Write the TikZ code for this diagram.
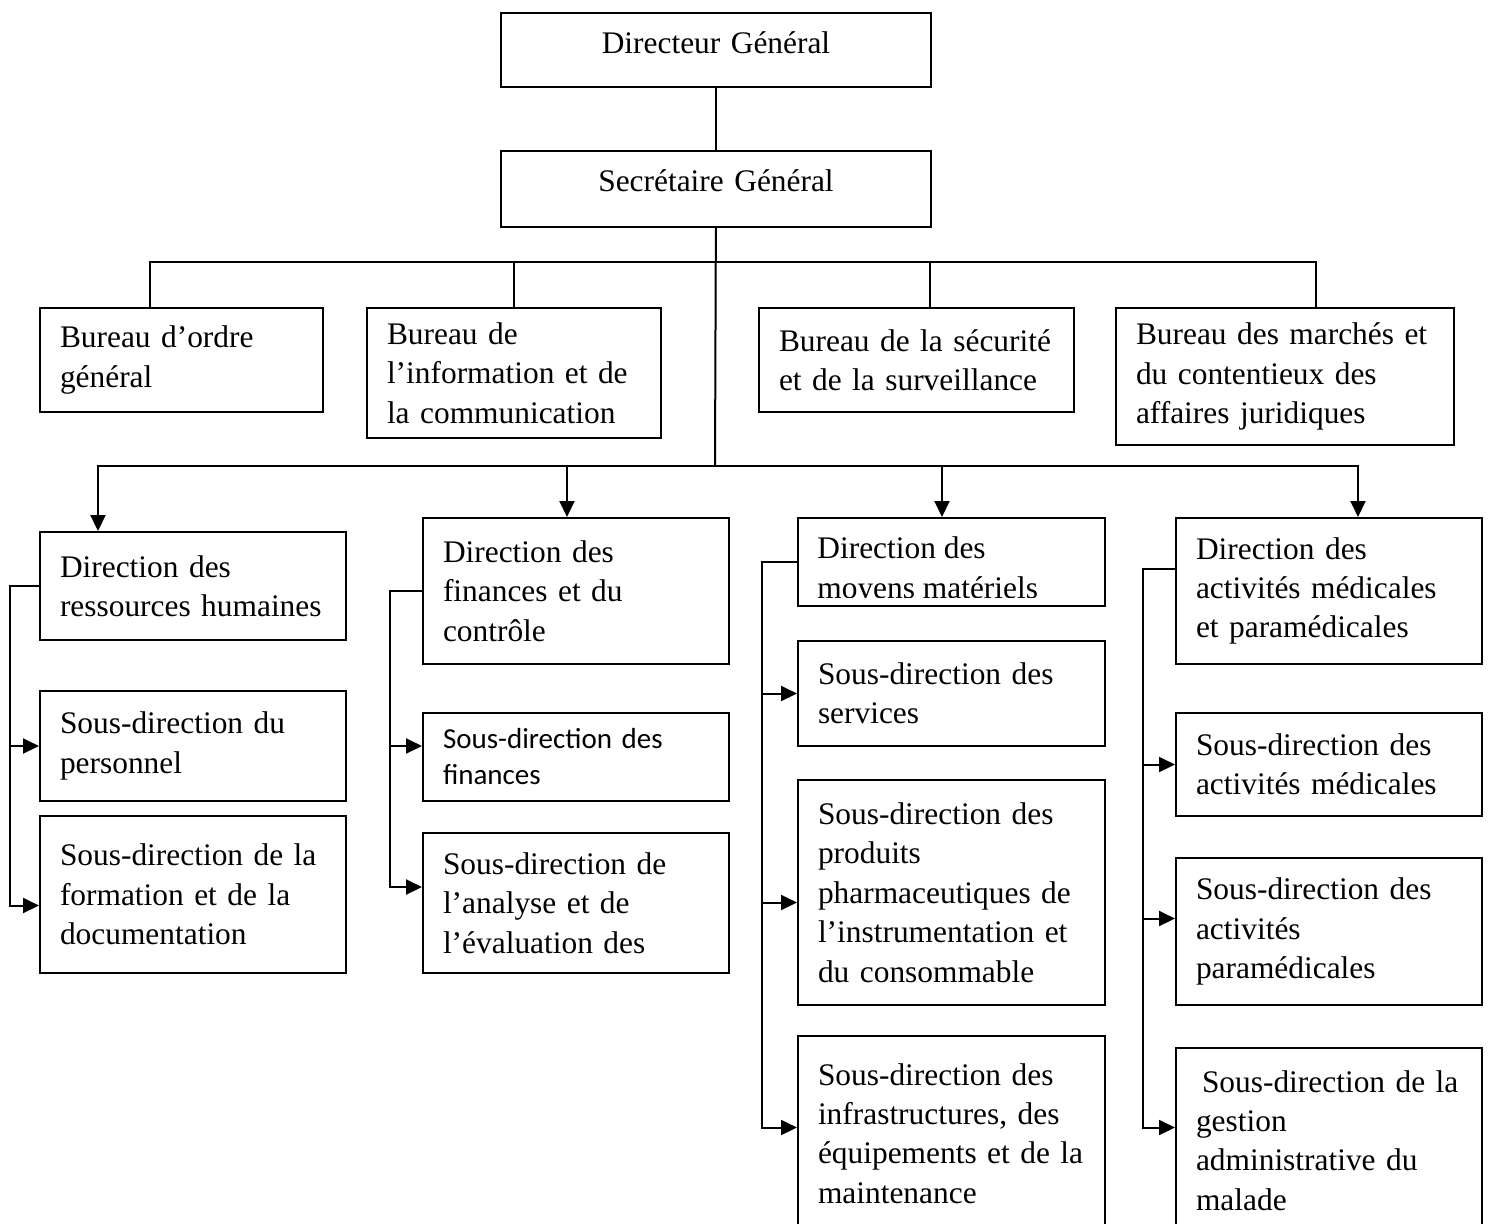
\documentclass[tikz,border=0pt]{standalone}
\usepackage{fontspec}
\setmainfont{Liberation Serif}
\newfontfamily\calibrifont{Carlito}
\usetikzlibrary{arrows.meta,calc}

\begin{document}
\begin{tikzpicture}[x=0.5pt,y=0.5pt,yscale=-1,xscale=1,
    box/.style 2 args={draw, line width=1pt, anchor=north west, align=left, inner xsep=5pt, inner ysep=0pt, text width=#1, minimum height=#2, font=\fontsize{15.7}{19.7}\selectfont, execute at begin node={\leftskip=5pt}},
    head/.style={execute at begin node={\leftskip=0pt plus 1fil\rightskip=0pt plus 1fil\parfillskip=0pt}},
    link/.style={line width=1pt},
    arr/.style={line width=1pt, -{Triangle[length=8pt,width=7.5pt]}}]
        \useasboundingbox (0,0) rectangle (1488,1223);
        \clip (0,0) rectangle (1488,1223);
        \draw (500,12) node [box={205pt}{37pt}, head] (dg) {Directeur Général\rule[-7pt]{0pt}{7pt}};
        \draw (500,150) node [box={205pt}{38pt}, head] (sg) {Secrétaire Général\rule[-8pt]{0pt}{8pt}};
        \draw (39,307) node [box={131.5pt}{52pt}] (bog) {Bureau d’ordre\\général};
        \draw (366,307) node [box={137pt}{65pt}] (bic) {Bureau de\\l’information et de\\la communication};
        \draw (758,307) node [box={147.5pt}{52pt}] (bss) {Bureau de la sécurité\\et de la surveillance};
        \draw (1115,307) node [box={159pt}{68.5pt}] (bmc) {Bureau des marchés et\\du contentieux des\\affaires juridiques};
        \draw (39,531) node [box={143pt}{54pt}] (drh) {Direction des\\ressources humaines};
        \draw (422,517) node [box={143pt}{73pt}] (dfc) {Direction des\\finances et du\\contrôle};
        \draw (797,517) node [box={143.5pt}{44pt}] (dmm) {};
        \draw (1175,517) node [box={143pt}{73pt}] (dam) {Direction des\\activités médicales\\et paramédicales};
        \begin{scope}
            \clip (dmm.north west) rectangle ($(dmm.south east)+(0,-10)$);
            \node [anchor=base west, inner sep=0pt, font=\fontsize{15.7}{19.7}\selectfont] (dmma) at ($(dmm.north west)+(20,41)$) {Direction des};
            \node [anchor=base west, inner sep=0pt, font=\fontsize{15.7}{19.7}\selectfont] (dmmb) at ($(dmm.north west)+(20,81)$) {moyens matériels};
        \end{scope}
        \draw (39,690) node [box={143pt}{55pt}] (sdp) {Sous-direction du\\personnel};
        \draw (39,815) node [box={143pt}{78.5pt}] (sdf) {Sous-direction de la\\formation et de la\\documentation};
        \draw (422,712) node [box={143pt}{44pt}, font=\calibrifont\fontsize{14.5}{18}\selectfont] (sdfi) {Sous-direction des\\finances};
        \draw (422,832) node [box={143pt}{70pt}] (sda) {Sous-direction de\\l’analyse et de\\l’évaluation des};
        \draw (797,640) node [box={143.5pt}{52.5pt}] (sds) {Sous-direction des\\services};
        \draw (797,779) node [box={143.5pt}{112.5pt}] (sdpp) {Sous-direction des\\produits\\pharmaceutiques de\\l’instrumentation et\\du consommable};
        \draw (797,1035) node [box={143.5pt}{97.5pt}] (sdi) {Sous-direction des\\infrastructures, des\\équipements et de la\\maintenance};
        \draw (1175,712) node [box={143pt}{51.5pt}] (sdam) {Sous-direction des\\activités médicales};
        \draw (1175,857) node [box={143pt}{73.5pt}] (sdap) {Sous-direction des\\activités\\paramédicales};
        \draw (1175,1047) node [box={143pt}{92.5pt}] (sdg) {\hspace*{3pt}Sous-direction de la\\gestion\\administrative du\\malade};
        \coordinate (top) at (715,262);
        \coordinate (mid) at (715,466);
        \draw [link] (dg) -- (sg);
        \draw [link] (sg) -- (mid);
        \draw [link] ($(bog.north west)+(111,0)$) |- (top);
        \draw [link] (bic.north) |- (top);
        \draw [link] ($(bss.north west)+(172,0)$) |- (top);
        \draw [link] ($(bmc.north west)+(201,0)$) |- (top);
        \draw [arr] (mid) -| ($(drh.north west)+(59,0)$);
        \draw [arr] (mid) -| ($(dfc.north west)+(145,0)$);
        \draw [arr] (mid) -| ($(dmm.north west)+(145,0)$);
        \draw [arr] (mid) -| ($(dam.north west)+(183,0)$);
        \draw [arr] (drh.west) -- ++(-29,0) |- (sdp.west);
        \draw [arr] (drh.west) -- ++(-29,0) |- ($(sdf.west)+(0,11)$);
        \draw [arr] (dfc.west) -- ++(-32,0) |- ($(sdfi.west)+(0,-11)$);
        \draw [arr] (dfc.west) -- ++(-32,0) |- ($(sda.west)+(0,-16)$);
        \draw [arr] (dmm.west) -- ++(-35,0) |- (sds.west);
        \draw [arr] (dmm.west) -- ++(-35,0) |- ($(sdpp.west)+(0,10)$);
        \draw [arr] (dmm.west) -- ++(-35,0) |- ($(sdi.west)+(0,-6)$);
        \draw [arr] ($(dam.west)+(0,-22)$) -- ++(-32,0) |- (sdam.west);
        \draw [arr] ($(dam.west)+(0,-22)$) -- ++(-32,0) |- ($(sdap.west)+(0,-13)$);
        \draw [arr] ($(dam.west)+(0,-22)$) -- ++(-32,0) |- ($(sdg.west)+(0,-13)$);
    \end{tikzpicture}
\end{document}
